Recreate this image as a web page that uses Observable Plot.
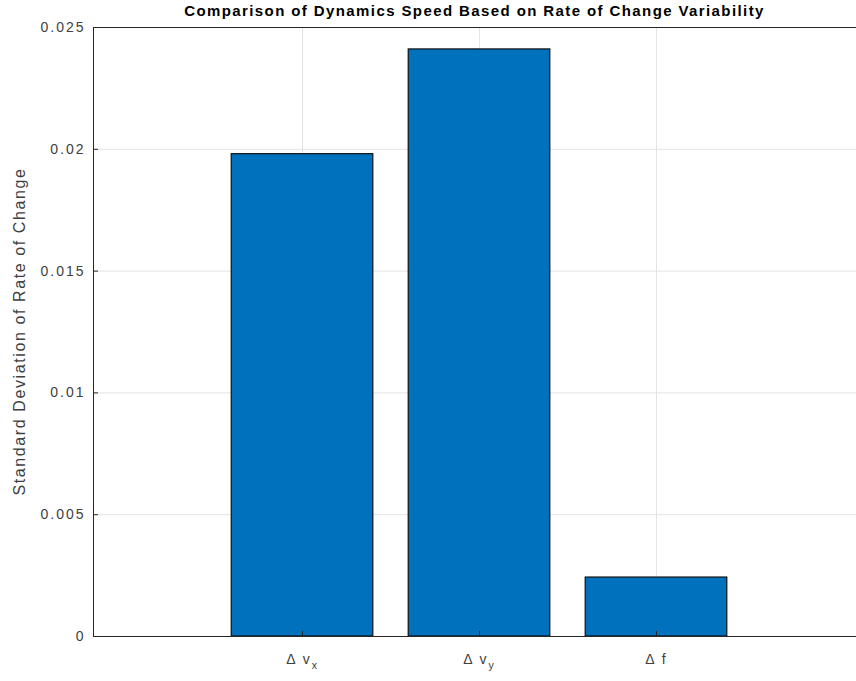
<!DOCTYPE html>
<html>
<head>
<meta charset="utf-8">
<script src="https://cdn.jsdelivr.net/npm/d3@7"></script>
<script src="https://cdn.jsdelivr.net/npm/@observablehq/plot@0.6"></script>
<style>
  html, body { margin: 0; padding: 0; background: #fff; }
  #wrap { width: 856px; height: 681px; position: relative; overflow: hidden; }
  #title {
    position: absolute; left: 93px; right: 0; top: 2px;
    text-align: center;
    font: bold 15px "Liberation Sans", Arial, Helvetica, sans-serif;
    letter-spacing: 1.4px;
    color: #000;
  }
  #chart { position: absolute; left: 0; top: 20px; }
</style>
</head>
<body>
<div id="wrap">
  <div id="title">Comparison of Dynamics Speed Based on Rate of Change Variability</div>
  <div id="chart"></div>
</div>
<script>
// Bar positions, labels and standard deviations of the rate of change
const positions = [1, 2, 3];
const labelBase = ["\u0394 v", "\u0394 v", "\u0394 f"];
const labelSub = ["x", "y", ""];
const stdValues = [0.0198, 0.0241, 0.00242];
const yTicks = [0, 0.005, 0.01, 0.015, 0.02, 0.025];

const xDomain = [-0.181, 4.13];
const barHalf = 0.4;
const axisColor = "#262626";
const gridColor = "#e3e3e3";
const textColor = "#404040";

const bars = positions.map((p, i) => ({pos: p, value: stdValues[i]}));

const plot = Plot.plot({
  width: 856,
  height: 661,
  marginTop: 7,
  marginBottom: 45,
  marginLeft: 93,
  marginRight: 0,
  style: {fontFamily: "'Liberation Sans', Arial, Helvetica, sans-serif", fontSize: "14px", color: textColor, background: "#fff"},
  x: {type: "linear", domain: xDomain},
  y: {domain: [0, 0.025]},
  marks: [
    Plot.gridY(yTicks, {stroke: gridColor, strokeOpacity: 1}),
    Plot.gridX(positions, {stroke: gridColor, strokeOpacity: 1}),
    Plot.rectY(bars, {
      x1: d => d.pos - barHalf,
      x2: d => d.pos + barHalf,
      y1: 0,
      y2: "value",
      fill: "#0072BD",
      stroke: "#111",
      strokeWidth: 1.2
    }),
    // inward tick marks (no labels)
    Plot.axisX(positions, {tickSize: -5, tickFormat: () => "", stroke: axisColor, label: null}),
    Plot.axisY(yTicks, {tickSize: -5, tickFormat: () => "", stroke: axisColor, label: null}),
    // tick labels
    Plot.axisX(positions, {tickSize: 0, dy: 9, tickFormat: (d, i) => labelBase[i], label: null, fill: textColor}),
    Plot.axisY(yTicks, {tickSize: 0, tickPadding: 8, tickFormat: d => String(d), label: null, fill: textColor}),
    // axis box lines
    Plot.ruleY([0], {stroke: axisColor, strokeWidth: 1}),
    Plot.ruleY([0.025], {stroke: axisColor, strokeWidth: 1}),
    Plot.ruleX([xDomain[0]], {stroke: axisColor, strokeWidth: 1})
  ]
});

const svg = d3.select(plot);

// letter spacing for tick labels
svg.selectAll('g[aria-label="y-axis tick label"] text').attr("letter-spacing", "2px");

// subscripts on the category labels (only the labelled axis has non-empty texts)
svg.selectAll('g[aria-label="x-axis tick label"] text')
  .filter(function() { return this.textContent !== ""; })
  .each(function(_, i) {
    const t = d3.select(this);
    t.attr("letter-spacing", "2px");
    t.text(null);
    t.append("tspan").text(labelBase[i]);
    if (labelSub[i]) {
      t.append("tspan").attr("dy", "0.4em").attr("font-size", "10.5px").text(labelSub[i]);
    }
  });

// rotated y-axis label
svg.append("text")
  .attr("transform", `translate(25, ${7 + (661 - 7 - 45) / 2}) rotate(-90)`)
  .attr("text-anchor", "middle")
  .attr("fill", textColor)
  .attr("font-size", "16px")
  .attr("letter-spacing", "1.6px")
  .text("Standard Deviation of Rate of Change");

document.getElementById("chart").appendChild(plot);
</script>
</body>
</html>
